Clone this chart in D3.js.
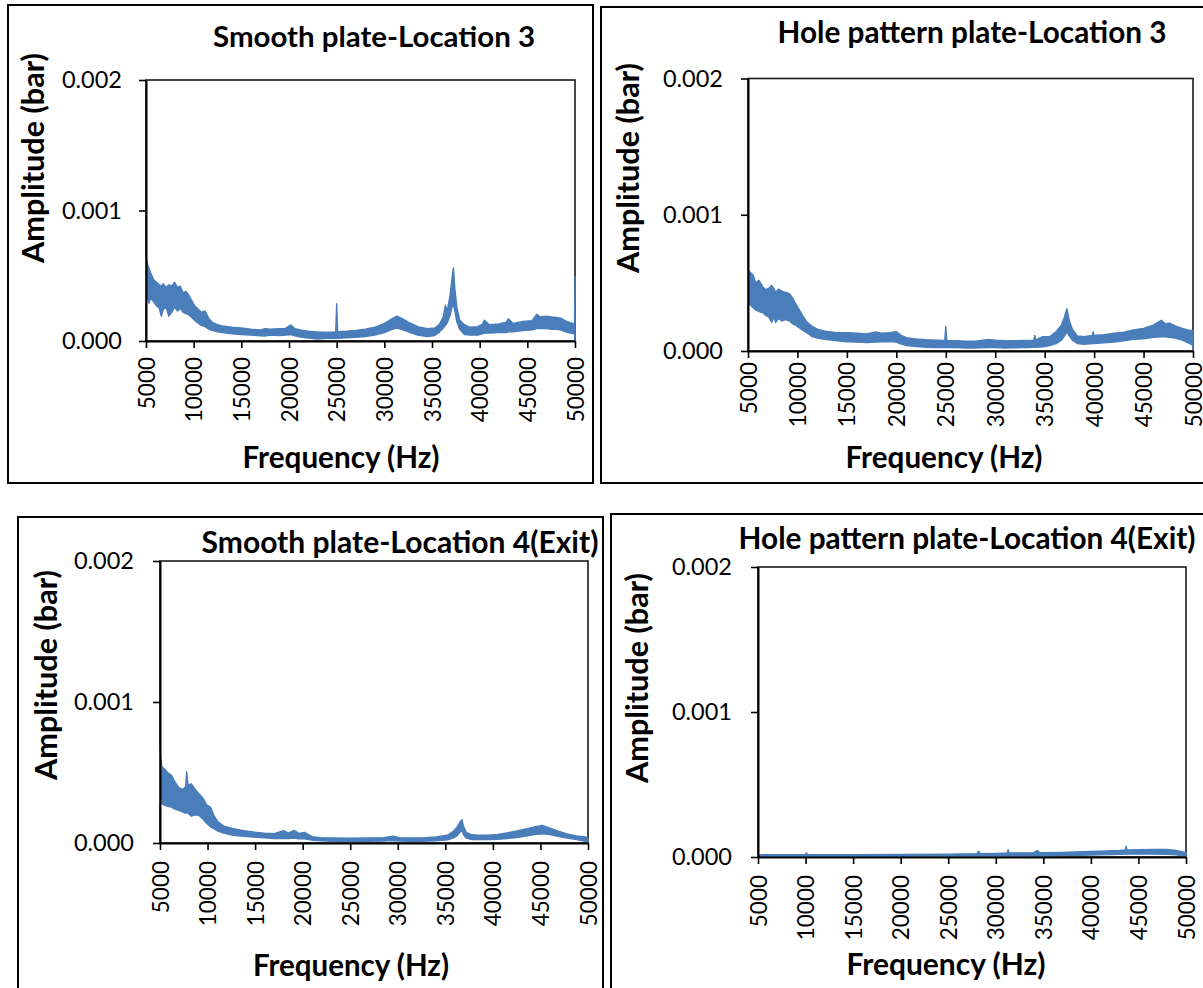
<!DOCTYPE html>
<html>
<head>
<meta charset="utf-8">
<script src="https://cdn.jsdelivr.net/npm/d3@7"></script>
<style>
  body { margin: 0; background: #fff; }
  svg { display: block; }
  text { font-family: Lato, "Open Sans", sans-serif; fill: #000; }
</style>
</head>
<body>
<svg id="chart" width="1203" height="988"></svg>
<script>
// ---- chart text ----
const panelTitles = [
  "Smooth plate-Location 3",
  "Hole pattern plate-Location 3",
  "Smooth plate-Location 4(Exit)",
  "Hole pattern plate-Location 4(Exit)"
];
const xAxisTitle = "Frequency (Hz)";
const yAxisTitle = "Amplitude (bar)";
const xTicks = [5000, 10000, 15000, 20000, 25000, 30000, 35000, 40000, 45000, 50000];
const yTicks = [0, 0.001, 0.002];

// ---- spectra: lower / upper envelope of the FFT amplitude, in units of 1e-4 bar ----
const AMP_UNIT = 1e-4;

// Smooth plate, location 3
const freqS3 = [5000, 5150, 5300, 5500, 5800, 6100, 6400, 6600, 6800, 7100, 7400, 7700, 8000, 8300, 8600, 8900, 9200, 9500, 9800, 10100, 10400, 10800, 11200, 11600, 12000, 12500, 13000, 14000, 15000, 16000, 17000, 17500, 18000, 19000, 19600, 20200, 20600, 21200, 22000, 23000, 24000, 24900, 25000, 25100, 26000, 27000, 28000, 29000, 30000, 30800, 31300, 31800, 32500, 33500, 34500, 35300, 35800, 36200, 36400, 36600, 36900, 37100, 37250, 37400, 37600, 37900, 38400, 39000, 39800, 40300, 40500, 41000, 42000, 42800, 43000, 43500, 44500, 45500, 46000, 46300, 47000, 47500, 48000, 48500, 49000, 49500, 49950, 50000];
const loS3 = [3.0, 3.4, 2.9, 3.3, 3.0, 2.7, 2.5, 1.9, 2.4, 2.6, 1.9, 2.2, 2.6, 2.3, 2.5, 2.2, 2.1, 2.0, 1.8, 1.6, 1.4, 1.2, 1.1, 0.9, 0.8, 0.7, 0.65, 0.55, 0.5, 0.45, 0.4, 0.38, 0.45, 0.42, 0.45, 0.5, 0.4, 0.3, 0.22, 0.15, 0.2, 0.2, 0.2, 0.2, 0.25, 0.28, 0.35, 0.45, 0.65, 0.9, 1.0, 0.9, 0.7, 0.45, 0.35, 0.42, 0.7, 1.0, 1.2, 1.4, 2.0, 2.6, 2.8, 2.3, 1.5, 0.9, 0.5, 0.45, 0.45, 0.55, 0.6, 0.6, 0.65, 0.65, 0.7, 0.7, 0.8, 0.85, 0.95, 0.95, 0.95, 0.9, 0.9, 0.85, 0.7, 0.6, 0.55, 0.0];
const hiS3 = [6.4, 5.9, 5.6, 5.2, 4.7, 4.5, 4.3, 4.2, 4.4, 4.1, 4.3, 4.2, 4.5, 4.1, 4.2, 3.7, 3.8, 3.5, 3.1, 2.7, 2.5, 2.2, 2.3, 1.7, 1.4, 1.25, 1.15, 1.05, 1.0, 0.9, 0.85, 0.95, 0.9, 0.95, 0.95, 1.23, 0.95, 0.85, 0.75, 0.7, 0.68, 0.7, 2.85, 0.72, 0.75, 0.8, 0.9, 1.05, 1.35, 1.7, 1.9, 1.75, 1.45, 1.1, 0.95, 1.0, 1.3, 1.9, 2.75, 2.3, 3.5, 4.8, 5.6, 4.0, 2.6, 1.6, 1.25, 1.05, 1.1, 1.3, 1.6, 1.25, 1.3, 1.45, 1.7, 1.35, 1.5, 1.55, 2.05, 1.85, 1.9, 1.85, 1.8, 1.75, 1.55, 1.4, 1.3, 4.95];

// Hole pattern plate, location 3
const freqH3 = [5000, 5200, 5500, 5800, 6100, 6500, 6800, 7100, 7400, 7600, 7800, 8100, 8400, 8800, 9200, 9500, 9800, 10200, 10600, 11000, 11500, 12000, 12800, 14000, 15000, 16000, 17000, 17900, 18500, 19300, 20000, 20500, 21000, 22000, 23000, 24000, 24900, 25000, 25100, 26000, 27000, 28000, 29300, 30000, 31000, 32000, 33000, 33900, 34000, 34100, 34800, 35500, 36200, 36700, 37000, 37250, 37500, 37800, 38300, 39000, 39800, 39900, 40000, 41000, 42000, 43000, 44000, 45000, 46000, 46800, 47200, 47600, 48200, 48900, 49500, 49950, 50000];
const loH3 = [3.6, 3.4, 3.2, 3.0, 2.9, 2.8, 2.6, 2.5, 2.1, 2.5, 2.1, 2.4, 2.2, 2.3, 2.2, 2.0, 1.9, 1.7, 1.5, 1.3, 1.05, 0.95, 0.85, 0.75, 0.68, 0.65, 0.62, 0.65, 0.68, 0.7, 0.65, 0.5, 0.4, 0.32, 0.28, 0.25, 0.25, 0.25, 0.25, 0.25, 0.22, 0.22, 0.25, 0.25, 0.22, 0.24, 0.25, 0.28, 0.28, 0.28, 0.3, 0.4, 0.55, 0.8, 1.1, 1.4, 1.1, 0.8, 0.55, 0.5, 0.55, 0.55, 0.55, 0.6, 0.65, 0.75, 0.85, 0.9, 1.0, 1.05, 1.05, 1.0, 0.95, 0.8, 0.6, 0.45, 0.0];
const hiH3 = [5.9, 5.8, 5.6, 5.0, 5.2, 4.7, 4.5, 4.6, 4.8, 4.6, 4.3, 4.55, 4.4, 4.3, 4.2, 3.9, 3.5, 3.0, 2.5, 2.1, 1.8, 1.6, 1.45, 1.35, 1.35, 1.3, 1.25, 1.4, 1.3, 1.35, 1.42, 1.15, 0.98, 0.88, 0.83, 0.8, 0.78, 1.8, 0.78, 0.75, 0.72, 0.72, 0.85, 0.8, 0.75, 0.76, 0.78, 0.8, 1.15, 0.82, 1.05, 1.05, 1.45, 1.9, 2.5, 3.1, 2.2, 1.6, 1.1, 1.05, 1.15, 1.4, 1.15, 1.2, 1.3, 1.38, 1.55, 1.65, 1.9, 2.25, 2.0, 2.05, 1.85, 1.65, 1.55, 1.5, 1.5];

// Smooth plate, location 4 (exit)
const freqS4 = [5000, 5200, 5400, 5800, 6200, 6600, 7000, 7400, 7700, 7800, 7950, 8300, 8700, 9100, 9500, 9900, 10300, 10700, 11100, 11700, 12700, 13800, 14800, 16000, 17000, 18000, 18500, 19100, 19600, 20200, 21000, 22000, 23000, 25000, 27000, 28500, 29500, 30200, 31200, 32500, 34000, 35200, 35800, 36200, 36600, 36750, 36900, 37200, 37800, 38500, 39500, 40500, 41500, 42500, 43500, 44500, 45200, 46000, 46800, 47800, 48800, 49500, 49950, 50000];
const loS4 = [2.9, 2.8, 2.7, 2.6, 2.55, 2.4, 2.3, 2.2, 2.1, 2.2, 2.1, 1.9, 2.0, 1.95, 1.7, 1.4, 1.15, 1.0, 0.85, 0.7, 0.55, 0.48, 0.43, 0.36, 0.32, 0.33, 0.32, 0.35, 0.3, 0.3, 0.2, 0.15, 0.12, 0.12, 0.12, 0.14, 0.17, 0.14, 0.12, 0.12, 0.15, 0.22, 0.35, 0.5, 0.8, 0.9, 0.6, 0.35, 0.25, 0.24, 0.25, 0.27, 0.32, 0.38, 0.5, 0.62, 0.66, 0.6, 0.48, 0.35, 0.25, 0.15, 0.05, 0.02];
const hiS4 = [6.5, 5.4, 5.3, 5.0, 4.8, 4.3, 3.9, 3.8, 4.0, 5.05, 4.1, 4.2, 3.8, 3.5, 3.2, 2.7, 2.55, 1.9, 1.5, 1.2, 1.02, 0.88, 0.78, 0.7, 0.66, 0.88, 0.7, 0.9, 0.68, 0.75, 0.45, 0.38, 0.36, 0.34, 0.36, 0.38, 0.48, 0.38, 0.35, 0.36, 0.43, 0.55, 0.8, 1.1, 1.55, 1.65, 1.2, 0.75, 0.58, 0.55, 0.55, 0.6, 0.72, 0.85, 1.0, 1.15, 1.25, 1.05, 0.85, 0.65, 0.5, 0.45, 0.42, 0.25];

// Hole pattern plate, location 4 (exit)
const freqH4 = [5000, 10000, 10100, 10200, 15000, 20000, 25000, 28000, 28200, 28400, 30000, 31200, 31300, 31400, 34000, 34400, 34600, 37000, 39000, 41000, 43000, 43600, 43700, 43800, 45000, 46500, 48000, 49000, 50000];
const loH4 = [0.0, 0.0, 0.0, 0.0, 0.0, 0.0, 0.02, 0.03, 0.03, 0.03, 0.04, 0.05, 0.05, 0.05, 0.07, 0.07, 0.07, 0.1, 0.12, 0.15, 0.18, 0.2, 0.2, 0.2, 0.2, 0.2, 0.18, 0.15, 0.05];
const hiH4 = [0.15, 0.17, 0.28, 0.17, 0.16, 0.17, 0.19, 0.22, 0.4, 0.22, 0.25, 0.28, 0.5, 0.28, 0.3, 0.45, 0.3, 0.32, 0.36, 0.4, 0.45, 0.48, 0.75, 0.48, 0.5, 0.52, 0.52, 0.45, 0.3];

const spectra = [
  { freq: freqS3, lo: loS3, hi: hiS3 },
  { freq: freqH3, lo: loH3, hi: hiH3 },
  { freq: freqS4, lo: loS4, hi: hiS4 },
  { freq: freqH4, lo: loH4, hi: hiH4 }
];

// ---- page layout of the four framed panels ----
const layout = [
  { frame: [8, 5, 585, 478],   plot: { l: 146, r: 575, t: 80,   b: 341 },
    title: [374, 47, 322],  amp: [44, 158, 210],  freq: [341, 468, 197], xGap: 16, yPad: 17 },
  { frame: [601, 7, 620, 476], plot: { l: 748, r: 1193, t: 78.5, b: 351 },
    title: [972, 43, 389],  amp: [639, 168, 210], freq: [944, 468, 197], xGap: 11, yPad: 18 },
  { frame: [18, 517, 585, 500], plot: { l: 160, r: 588, t: 561,  b: 843 },
    title: [400, 553, 397], amp: [57, 675, 210],  freq: [351, 976, 196], xGap: 18, yPad: 19 },
  { frame: [611, 514, 620, 500], plot: { l: 758, r: 1186, t: 567, b: 857 },
    title: [967, 549, 457], amp: [648, 678, 210], freq: [946, 975, 199], xGap: 18, yPad: 19 }
];

const LINE_BLUE = "#4a7ebb";
const svg = d3.select("#chart");
svg.append("rect").attr("width", 1203).attr("height", 988).attr("fill", "#fff");

// scale a text's font size so its rendered width matches the given width
function fitText(sel, width, base) {
  sel.style("font-size", base + "px");
  const w = sel.node().getComputedTextLength();
  sel.style("font-size", (base * width / w).toFixed(2) + "px");
  return sel;
}

layout.forEach((cfg, i) => {
  const g = svg.append("g");
  const [fx, fy, fw, fh] = cfg.frame;
  g.append("rect")
    .attr("x", fx).attr("y", fy).attr("width", fw).attr("height", fh)
    .attr("fill", "none").attr("stroke", "#000").attr("stroke-width", 2);

  const p = cfg.plot;
  const x = d3.scaleLinear().domain([5000, 50000]).range([p.l, p.r]);
  const y = d3.scaleLinear().domain([0, 0.002]).range([p.b, p.t]);

  // plot-area border
  g.append("rect")
    .attr("x", p.l).attr("y", p.t).attr("width", p.r - p.l).attr("height", p.b - p.t)
    .attr("fill", "none").attr("stroke", "#1a1a1a").attr("stroke-width", 1.6);

  // spectrum band
  const s = spectra[i];
  const pts = s.freq.map((f, k) => ({ f, lo: s.lo[k] * AMP_UNIT, hi: s.hi[k] * AMP_UNIT }));
  const band = d3.area()
    .x(d => x(d.f))
    .y0(d => y(d.lo))
    .y1(d => y(d.hi));
  g.append("path")
    .datum(pts)
    .attr("d", band)
    .attr("fill", LINE_BLUE)
    .attr("stroke", LINE_BLUE)
    .attr("stroke-width", 1.4)
    .attr("stroke-linejoin", "round");

  // y axis
  const yAxis = g.append("g")
    .attr("transform", `translate(${p.l},0)`)
    .call(d3.axisLeft(y).tickValues(yTicks).tickFormat(d3.format(".3f"))
      .tickSize(7).tickSizeOuter(0).tickPadding(cfg.yPad));
  yAxis.select(".domain").attr("stroke", "#000").attr("stroke-width", 2);
  yAxis.selectAll(".tick line").attr("stroke", "#000").attr("stroke-width", 1.6);
  yAxis.selectAll(".tick text")
    .attr("font-family", null).style("font-size", "23.5px").attr("fill", "#000");

  // x axis with vertical labels
  const xAxis = g.append("g")
    .attr("transform", `translate(0,${p.b})`)
    .call(d3.axisBottom(x).tickValues(xTicks).tickFormat(d3.format("d"))
      .tickSize(7).tickSizeOuter(0));
  xAxis.select(".domain").attr("stroke", "#000").attr("stroke-width", 2);
  xAxis.selectAll(".tick line").attr("stroke", "#000").attr("stroke-width", 1.6);
  xAxis.selectAll(".tick text")
    .attr("font-family", null).style("font-size", "22.5px").attr("fill", "#000")
    .attr("transform", "rotate(-90)")
    .attr("text-anchor", "end")
    .attr("x", -cfg.xGap).attr("y", 0).attr("dy", "0.36em");

  // titles
  const [tx, ty, tw] = cfg.title;
  fitText(g.append("text").attr("x", tx).attr("y", ty)
    .attr("text-anchor", "middle").attr("font-weight", 700)
    .text(panelTitles[i]), tw, 24);

  const [ax, ay, aw] = cfg.amp;
  fitText(g.append("text")
    .attr("transform", `translate(${ax},${ay}) rotate(-90)`)
    .attr("text-anchor", "middle").attr("font-weight", 700)
    .text(yAxisTitle), aw, 24);

  const [qx, qy, qw] = cfg.freq;
  fitText(g.append("text").attr("x", qx).attr("y", qy)
    .attr("text-anchor", "middle").attr("font-weight", 700)
    .text(xAxisTitle), qw, 24);
});
</script>
</body>
</html>
